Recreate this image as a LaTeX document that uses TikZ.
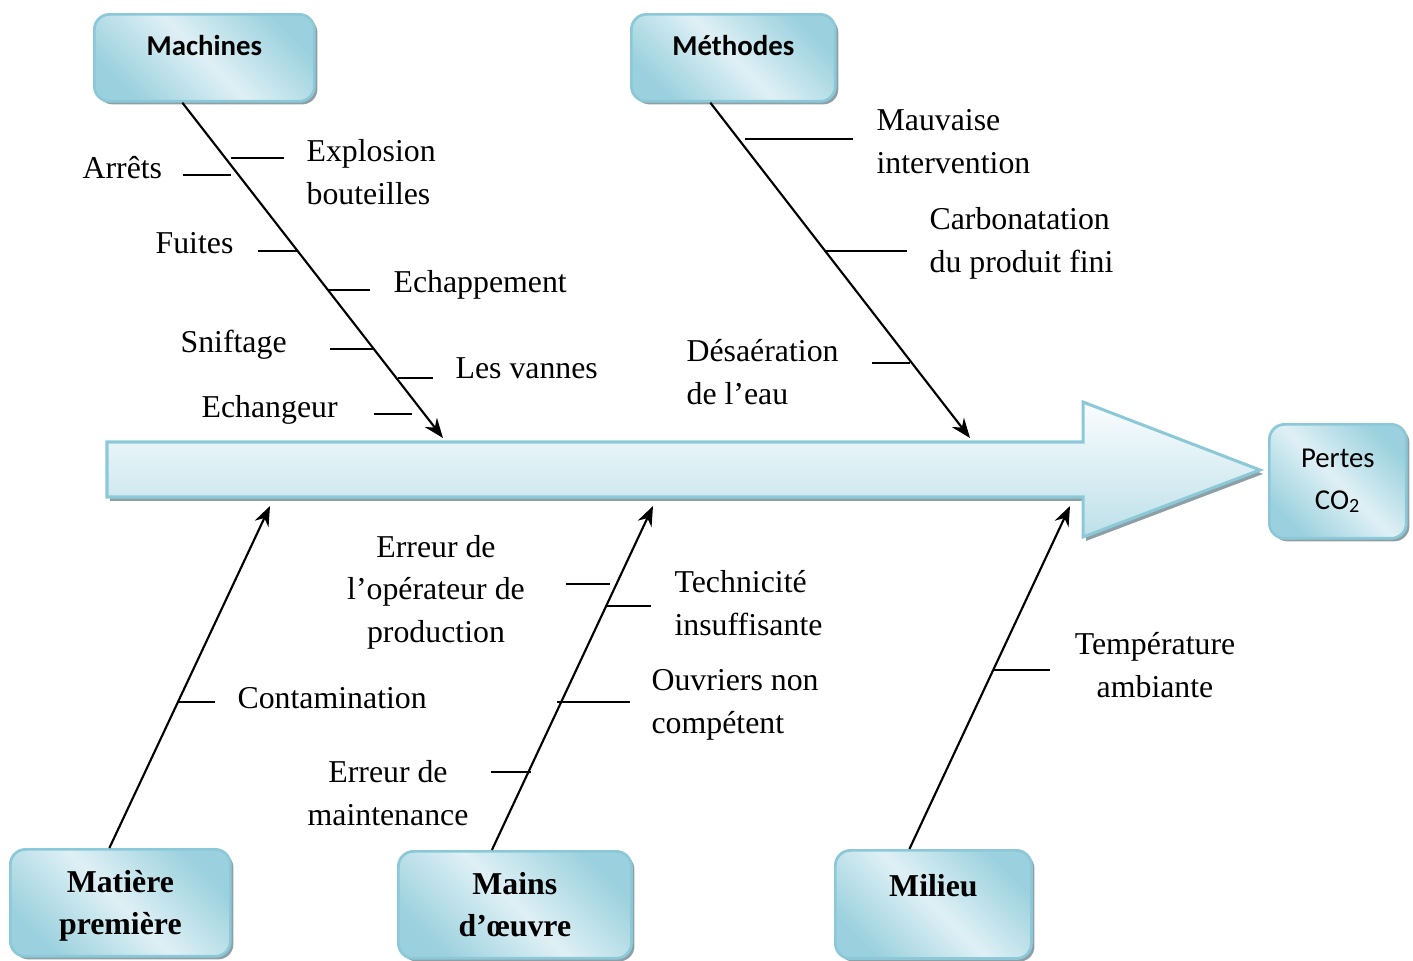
\documentclass[tikz,border=0pt]{standalone}
\usepackage{fontspec}
\setmainfont{Liberation Serif}
\newfontfamily\calib{Carlito}
\usetikzlibrary{arrows.meta,calc,shadows}
\definecolor{boxedge}{HTML}{8CC9D8}
\definecolor{boxdark}{HTML}{9BD1DE}
\definecolor{boxlight}{HTML}{DFF0F5}
\definecolor{arrtop}{HTML}{FAFDFE}
\definecolor{arrbot}{HTML}{BDE0E9}
\definecolor{shadowgray}{HTML}{8E9FA6}
\newlength\px
\setlength\px{0.33pt}
\tikzset{
  Cat/.style={rounded corners=5pt,draw=boxedge,line width=0.9pt,
    drop shadow={shadow xshift=1pt,shadow yshift=-1pt,fill=shadowgray,opacity=1},
    top color=boxdark,bottom color=boxdark,middle color=boxlight,shading angle=-45,
    inner sep=0pt,align=center,anchor=north west},
  TopCat/.style={Cat,font=\calib\fontsize{9.5}{13.9}\selectfont\bfseries},
  BotCat/.style={Cat,font=\fontsize{10.5}{13.9}\selectfont\bfseries},
  Lbl/.style={font=\fontsize{10.5}{13.9}\selectfont,inner sep=0pt,align=left,anchor=base west},
  Bone/.style={line width=0.5pt},
  Spine/.style={line width=0.7pt,-{Stealth[length=6.5pt,width=5pt]}}
}
\begin{document}
\begin{tikzpicture}[x=\px,y=-\px]
  \useasboundingbox (0,0) rectangle (1413,960);
  \path[draw=boxedge,line width=1pt,top color=arrtop,bottom color=arrbot,
    drop shadow={shadow xshift=1pt,shadow yshift=-1.3pt,fill=shadowgray,opacity=1}]
    (107,442) -- (1083,442) -- (1083,402) -- (1260,470) -- (1083,537) -- (1083,497) -- (107,497) -- cycle;
  \node[TopCat,minimum width=72.6pt,text height=13.5pt,text depth=15.2pt] (mach) at (93,13) {Machines};
  \node[TopCat,minimum width=67.3pt,text height=13.5pt,text depth=15.2pt] (meth) at (630,13) {Méthodes};
  \node[Cat,font=\calib\fontsize{9.5}{13.9}\selectfont,minimum width=45.2pt,text height=28pt,text depth=9.6pt] (pertes) at (1268,423) {Pertes\\CO\textsubscript{2}};
  \node[BotCat,minimum width=72.6pt,text height=28pt,text depth=7.3pt] (mat) at (9,848) {Matière\\première};
  \node[BotCat,minimum width=76.9pt,text height=28pt,text depth=7.3pt] (mains) at (397,850) {Mains\\d’œuvre};
  \node[BotCat,minimum width=64.7pt,text height=15.2pt,text depth=20.5pt] (mil) at (834,849) {Milieu};
  \coordinate (machEnd) at (443,438);
  \coordinate (methEnd) at (970,438);
  \coordinate (matEnd) at (270,506);
  \coordinate (mainsEnd) at (653,506);
  \coordinate (milEnd) at (1070,506);
  \begin{scope}[Spine]
    \draw ($(mach.south)+(-22,0)$) -- (machEnd);
    \draw ($(meth.south)+(-23,0)$) -- (methEnd);
    \draw ($(mat.north)+(-11,0)$) -- (matEnd);
    \draw ($(mains.north)+(-23,0)$) -- (mainsEnd);
    \draw ($(mil.north)+(-24,0)$) -- (milEnd);
  \end{scope}
  \begin{scope}[Bone]
    \draw (183,175) -- (231,175);
    \draw (231,158) -- (284,158);
    \draw (258,251) -- (298,251);
    \draw (328,290) -- (370,290);
    \draw (330,349) -- (373,349);
    \draw (398,378) -- (433,378);
    \draw (374,414) -- (412,414);
    \draw (745,139) -- (853,139);
    \draw (826,251) -- (907,251);
    \draw (872,363) -- (910,363);
    \draw (177,702) -- (215,702);
    \draw (566,584) -- (610,584);
    \draw (606,606) -- (651,606);
    \draw (557,702) -- (630,702);
    \draw (491,772) -- (531,772);
    \draw (993,670) -- (1050,670);
  \end{scope}
  \node[Lbl] (arrets) at (82,178) {Arrêts};
  \node[Lbl] (explo) at (306,204) {Explosion\\bouteilles};
  \node[Lbl] (fuites) at (155,253) {Fuites};
  \node[Lbl] (echap) at (393,292) {Echappement};
  \node[Lbl] (snif) at (180,352) {Sniftage};
  \node[Lbl] (vannes) at (455,378) {Les vannes};
  \node[Lbl] (echang) at (201,417) {Echangeur};
  \node[Lbl] (mauv) at (876,173) {Mauvaise\\intervention};
  \node[Lbl] (carbo) at (929,272) {Carbonatation\\du produit fini};
  \node[Lbl] (desae) at (686,404) {Désaération\\de l’eau};
  \node[Lbl] (conta) at (237,708) {Contamination};
  \node[Lbl,align=center,anchor=base] (operr) at (436,642) {Erreur de\\l’opérateur de\\production};
  \node[Lbl] (techn) at (674,635) {Technicité\\insuffisante};
  \node[Lbl] (ouvr) at (651,733) {Ouvriers non\\compétent};
  \node[Lbl,align=center,anchor=base] (maint) at (388,825) {Erreur de\\maintenance};
  \node[Lbl,align=center,anchor=base] (temp) at (1155,697) {Température\\ambiante};
\end{tikzpicture}
\end{document}
